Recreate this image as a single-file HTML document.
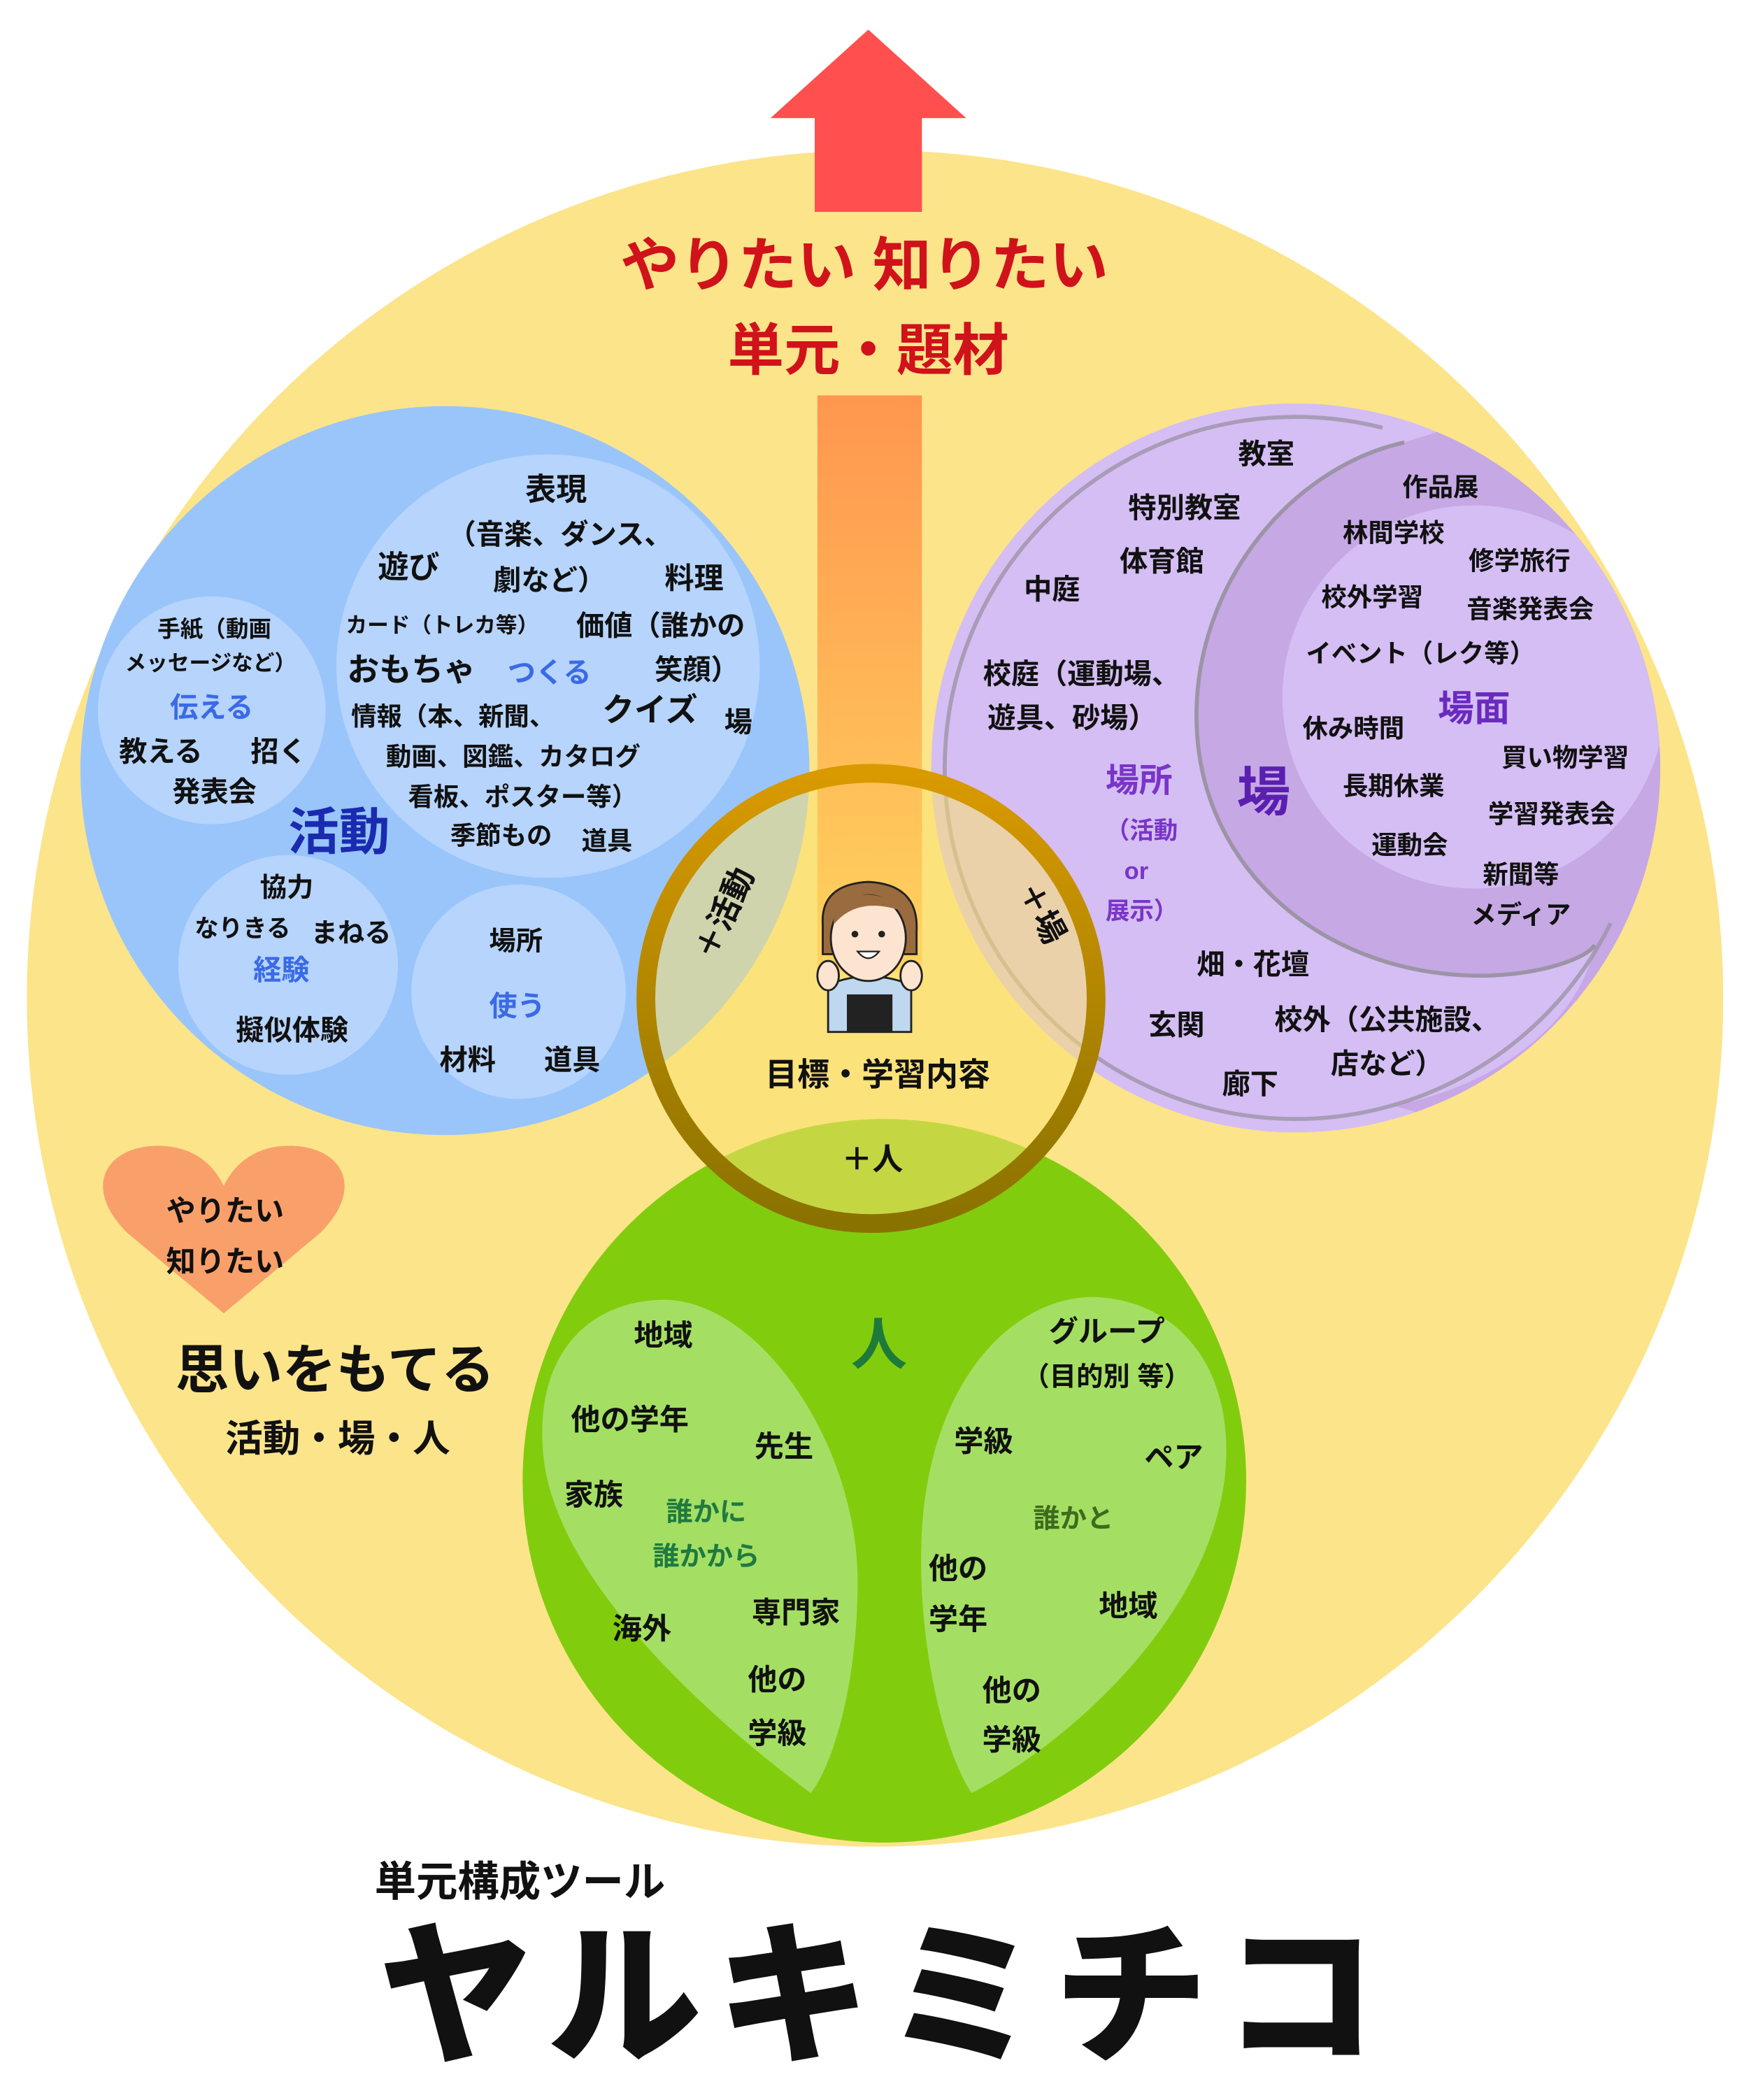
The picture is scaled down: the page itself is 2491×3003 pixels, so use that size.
<!DOCTYPE html>
<html><head><meta charset="utf-8"><style>
html,body{margin:0;padding:0;background:#fff;}
svg{display:block;}
text{font-family:"Liberation Sans","Noto Sans CJK JP",sans-serif;font-weight:700;text-anchor:middle;fill:#111;}
</style></head><body>
<svg width="2491" height="3003" viewBox="0 0 1300 1567" xmlns="http://www.w3.org/2000/svg">
<defs>
<linearGradient id="bar" x1="0" y1="0" x2="0" y2="1"><stop offset="0" stop-color="#FF964F"/><stop offset="1" stop-color="#FFD45E"/></linearGradient>
<linearGradient id="ring" x1="0" y1="0" x2="0" y2="1"><stop offset="0" stop-color="#D99A00"/><stop offset="1" stop-color="#8A7200"/></linearGradient>
<clipPath id="pc"><circle cx="967" cy="573" r="272"/></clipPath>
</defs>
<circle cx="653" cy="745" r="633" fill="#FCE48A"/>
<polygon points="648,22 721,88 688,88 688,158 608,158 608,88 575,88" fill="#FF4F4F"/>
<text x="645" y="213" font-size="44" style="fill:#D0121B">やりたい 知りたい</text>
<text x="648" y="276" font-size="42" style="fill:#D0121B">単元・題材</text>

<circle cx="332" cy="575" r="272" fill="#99C5FA"/>
<circle cx="409" cy="497" r="158" fill="#B6D4FC"/>
<circle cx="158" cy="530" r="85" fill="#B6D4FC"/>
<circle cx="215" cy="720" r="82" fill="#B6D4FC"/>
<circle cx="387" cy="740" r="80" fill="#B6D4FC"/>

<circle cx="967" cy="573" r="272" fill="#D4BEF3"/>
<g clip-path="url(#pc)">
<path d="M1048,330 C960,350 890,440 893,540 C896,650 990,730 1110,728 C1150,727 1185,715 1190,705 C1180,760 1120,810 1040,825 L1300,900 L1300,250 Z" fill="#C6A8E5"/>
<circle cx="1100" cy="520" r="143" fill="#D4BEF3"/>
</g>
<path d="M1048,330 C960,350 890,440 893,540 C896,650 990,730 1110,728 C1150,727 1185,715 1190,705" fill="none" stroke="#9C94A6" stroke-width="3"/>
<circle cx="967" cy="573" r="262" fill="none" stroke="#9C94A6" stroke-width="3" stroke-dasharray="1180 500" stroke-dashoffset="-120" opacity="0.8"/>

<circle cx="660" cy="1105" r="270" fill="#82CC0E"/>
<path d="M605,1338 C540,1290 410,1180 405,1080 C400,1000 450,968 500,970 C570,975 640,1080 640,1180 C640,1260 620,1320 605,1338 Z" fill="#A4DF63"/>
<path d="M725,1338 C700,1300 680,1200 690,1120 C705,1010 770,965 820,968 C880,972 918,1020 915,1090 C910,1200 800,1300 725,1338 Z" fill="#A4DF63"/>

<circle cx="650" cy="745" r="168" fill="rgba(252,224,110,0.55)"/>
<rect x="610" y="295" width="78" height="430" fill="url(#bar)"/>
<circle cx="650" cy="745" r="168" fill="none" stroke="url(#ring)" stroke-width="14"/>

<g>
<path d="M618,770 L618,735 Q648,722 680,735 L680,770 Z" fill="#BFD8F0" stroke="#222" stroke-width="1.5"/>
<path d="M632,770 L632,742 L666,742 L666,770 Z" fill="#222"/>
<path d="M614,690 Q612,660 648,658 Q686,660 684,695 L684,712 L614,712 Z" fill="#9A6B3E" stroke="#222" stroke-width="1.5"/>
<ellipse cx="648" cy="700" rx="28" ry="32" fill="#FCE4D0" stroke="#222" stroke-width="1.5"/>
<path d="M622,690 Q640,668 674,680 Q660,665 640,668 Q622,672 622,690Z" fill="#9A6B3E"/>
<circle cx="638" cy="697" r="2.5" fill="#222"/><circle cx="658" cy="697" r="2.5" fill="#222"/>
<path d="M640,710 Q648,720 656,710 Z" fill="#fff" stroke="#222" stroke-width="1.2"/>
<ellipse cx="618" cy="728" rx="8" ry="11" fill="#FCE4D0" stroke="#222" stroke-width="1.5"/>
<ellipse cx="680" cy="728" rx="8" ry="11" fill="#FCE4D0" stroke="#222" stroke-width="1.5"/>
</g>
<text x="655" y="810" font-size="24">目標・学習内容</text>
<text x="651" y="873" font-size="23">＋人</text>
<text x="0" y="0" font-size="24" transform="translate(548,685) rotate(-65)">＋活動</text>
<text x="0" y="0" font-size="24" transform="translate(770,685) rotate(62)">＋場</text>

<g font-size="21">
<text x="415" y="373" font-size="23">表現</text>
<text x="418" y="406">（音楽、ダンス、</text>
<text x="305" y="431" font-size="23">遊び</text>
<text x="410" y="440">劇など）</text>
<text x="518" y="439" font-size="22">料理</text>
<text x="330" y="472" font-size="16">カード（トレカ等）</text>
<text x="493" y="474">価値（誰かの</text>
<text x="307" y="508" font-size="24">おもちゃ</text>
<text x="410" y="509" style="fill:#3A6AE6">つくる</text>
<text x="520" y="507">笑顔）</text>
<text x="338" y="541" font-size="19">情報（本、新聞、</text>
<text x="485" y="538" font-size="24">クイズ</text>
<text x="551" y="546">場</text>
<text x="383" y="571" font-size="19">動画、図鑑、カタログ</text>
<text x="390" y="601" font-size="19">看板、ポスター等）</text>
<text x="374" y="630" font-size="19">季節もの</text>
<text x="453" y="634" font-size="19">道具</text>
<text x="160" y="475" font-size="17">手紙（動画</text>
<text x="157" y="500" font-size="16">メッセージなど）</text>
<text x="158" y="535" style="fill:#3A6AE6">伝える</text>
<text x="120" y="568">教える</text>
<text x="208" y="568">招く</text>
<text x="160" y="598">発表会</text>
<text x="253" y="634" font-size="38" style="fill:#1A2BB0">活動</text>
<text x="214" y="669" font-size="20">協力</text>
<text x="181" y="699" font-size="18">なりきる</text>
<text x="262" y="703" font-size="20">まねる</text>
<text x="210" y="731" style="fill:#3A6AE6">経験</text>
<text x="218" y="776">擬似体験</text>
<text x="385" y="709" font-size="20">場所</text>
<text x="386" y="758" style="fill:#3A6AE6">使う</text>
<text x="349" y="798">材料</text>
<text x="427" y="798">道具</text>
</g>

<g font-size="21">
<text x="945" y="346">教室</text>
<text x="884" y="386">特別教室</text>
<text x="867" y="426">体育館</text>
<text x="785" y="447">中庭</text>
<text x="1075" y="370" font-size="19">作品展</text>
<text x="1040" y="404" font-size="19">林間学校</text>
<text x="1134" y="425" font-size="19">修学旅行</text>
<text x="1024" y="452" font-size="19">校外学習</text>
<text x="1142" y="461" font-size="19">音楽発表会</text>
<text x="1060" y="494" font-size="19">イベント（レク等）</text>
<text x="807" y="510">校庭（運動場、</text>
<text x="800" y="543">遊具、砂場）</text>
<text x="1010" y="550" font-size="19">休み時間</text>
<text x="1100" y="538" font-size="27" style="fill:#6A2AC0">場面</text>
<text x="1168" y="572" font-size="19">買い物学習</text>
<text x="850" y="591" font-size="25" style="fill:#7A35C8">場所</text>
<text x="943" y="605" font-size="40" style="fill:#5B1FB0">場</text>
<text x="1040" y="593" font-size="19">長期休業</text>
<text x="1158" y="614" font-size="19">学習発表会</text>
<text x="852" y="626" font-size="18" style="fill:#7A35C8">（活動</text>
<text x="1052" y="637" font-size="19">運動会</text>
<text x="848" y="656" font-size="18" style="fill:#7A35C8">or</text>
<text x="1135" y="659" font-size="19">新聞等</text>
<text x="852" y="686" font-size="18" style="fill:#7A35C8">展示）</text>
<text x="1135" y="689" font-size="19">メディア</text>
<text x="935" y="727">畑・花壇</text>
<text x="878" y="772">玄関</text>
<text x="1035" y="768">校外（公共施設、</text>
<text x="1035" y="801">店など）</text>
<text x="933" y="816">廊下</text>
</g>

<g font-size="22">
<text x="656" y="1018" font-size="42" style="fill:#1E7A3A">人</text>
<text x="495" y="1004">地域</text>
<text x="470" y="1067">他の学年</text>
<text x="585" y="1087">先生</text>
<text x="443" y="1123">家族</text>
<text x="527" y="1135" font-size="20" style="fill:#1F7A40">誰かに</text>
<text x="527" y="1168" font-size="20" style="fill:#1F7A40">誰かから</text>
<text x="479" y="1223">海外</text>
<text x="594" y="1211">専門家</text>
<text x="580" y="1261">他の</text>
<text x="580" y="1301">学級</text>
<text x="826" y="1001">グループ</text>
<text x="826" y="1034" font-size="20">（目的別 等）</text>
<text x="734" y="1083">学級</text>
<text x="876" y="1095">ペア</text>
<text x="801" y="1140" font-size="20" style="fill:#3E6B1E">誰かと</text>
<text x="715" y="1178">他の</text>
<text x="715" y="1216">学年</text>
<text x="842" y="1206">地域</text>
<text x="755" y="1269">他の</text>
<text x="755" y="1306">学級</text>
</g>

<path d="M167,980 L95,920 C60,885 80,855 118,855 C145,855 160,870 167,885 C174,870 189,855 216,855 C254,855 274,885 239,920 Z" fill="#F9A06A"/>
<text x="168" y="911" font-size="22">やりたい</text>
<text x="168" y="949" font-size="22">知りたい</text>
<text x="250" y="1036" font-size="40">思いをもてる</text>
<text x="252" y="1083" font-size="28">活動・場・人</text>

<text x="388" y="1415" font-size="31">単元構成ツール</text>
<text x="655" y="1530" font-size="115" style="font-weight:900" textLength="745" lengthAdjust="spacing">ヤルキミチコ</text>
</svg>
</body></html>
